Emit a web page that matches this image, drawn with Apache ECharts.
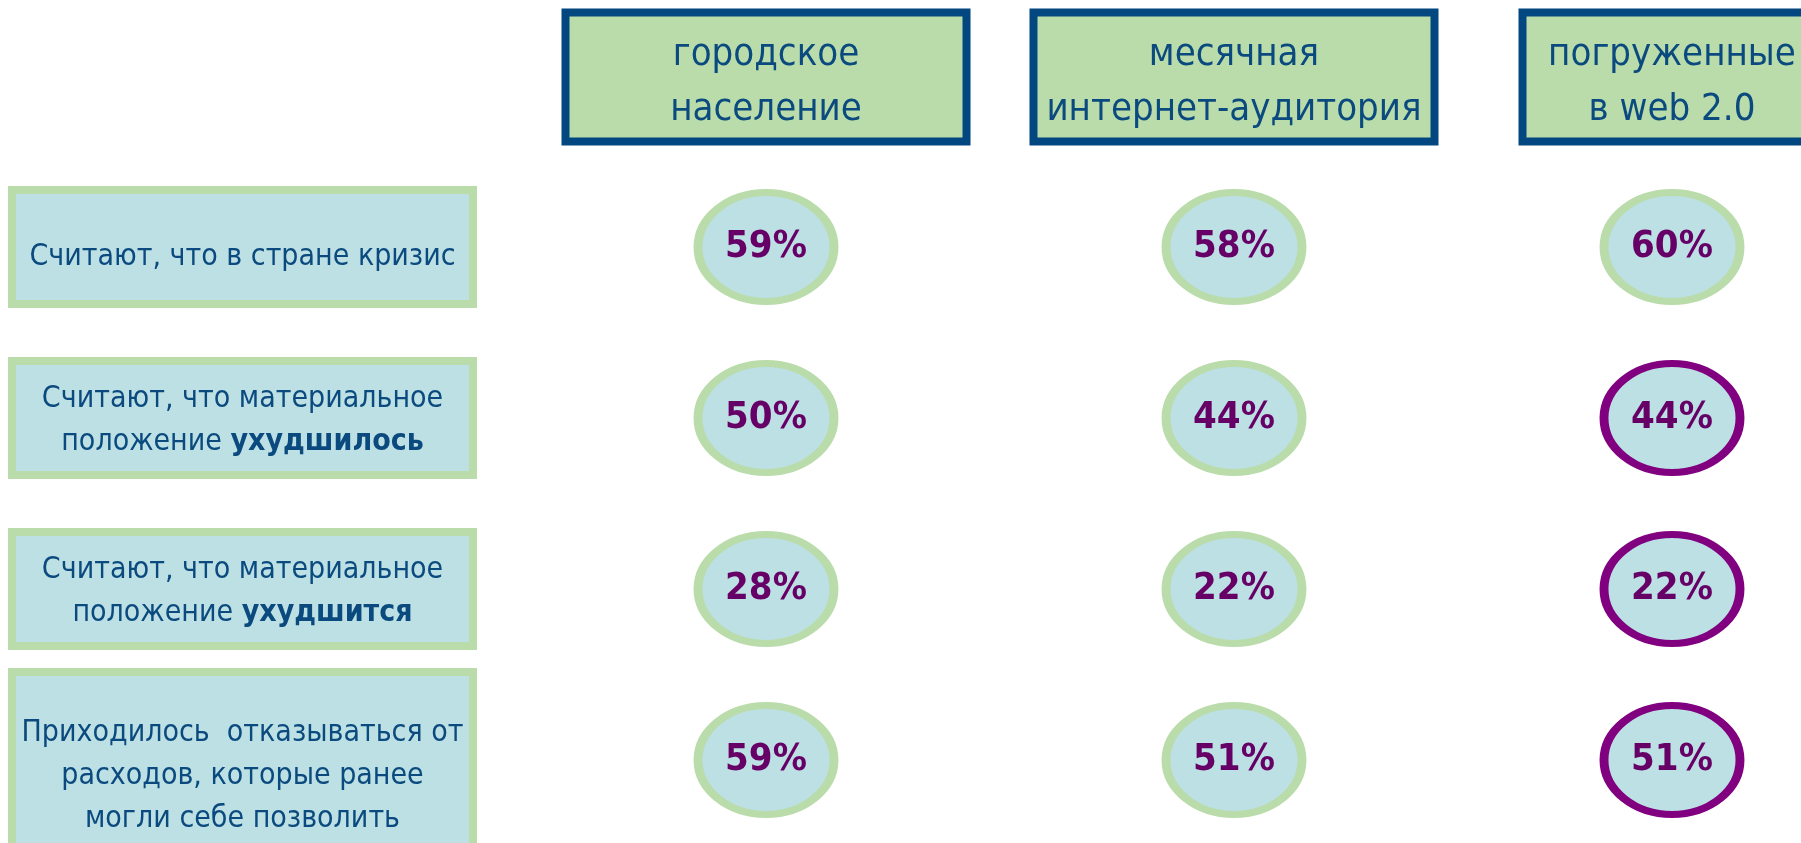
<!DOCTYPE html>
<html><head><meta charset="utf-8">
<script src="https://cdn.jsdelivr.net/npm/echarts@6/dist/echarts.min.js"></script>
<style>html,body{margin:0;padding:0;background:#fff}#chart{width:1801px;height:843px}</style>
</head><body><div id="chart"></div>
<script>
// ---- data ----
const columns = ['городское\nнаселение', 'месячная\nинтернет-аудитория', 'погруженные\nв web 2.0'];
const rows = [
  'Считают, что в стране кризис',
  'Считают, что материальное\nположение ухудшилось',
  'Считают, что материальное\nположение ухудшится',
  'Приходилось  отказываться от\nрасходов, которые ранее\nмогли себе позволить'
];
const boldWords = ['ухудшилось', 'ухудшится'];
const urbanPopulation = [59, 50, 28, 59];
const monthlyAudience = [58, 44, 22, 51];
const web20Users = [60, 44, 22, 51];
const columnValues = [urbanPopulation, monthlyAudience, web20Users];

// ---- layout / style ----
const FONT = "'Liberation Sans Narrow', 'DejaVu Sans Condensed', 'Liberation Sans', sans-serif";
const BLUE_TEXT = '#0b4a7f';
const HEADER_BORDER = '#02477f';
const GREEN = '#b9dcaa';
const LIGHT_BLUE = '#bce0e3';
const PURPLE = '#800080';
const PCT_TEXT = '#660066';
const colCenters = [766, 1234, 1672];
const headerWidths = [393, 393, 291];
const gridW = 200, gridTop = 161.5, gridH = 684;
const rowPadding = [[42, 0, 21, 0], [13, 0, 7, 0], [13, 0, 7, 0], [36, 0, 3, 0]];
const ellipse = 'path://M50,0 C77.6,0 100,22.4 100,50 C100,77.6 77.6,100 50,100 C22.4,100 0,77.6 0,50 C0,22.4 22.4,0 50,0 Z';

const grids = [], xAxes = [], yAxes = [], series = [];
columns.forEach((col, k) => {
  grids.push({ left: colCenters[k] - gridW / 2, width: gridW, top: gridTop, height: gridH,
               containLabel: false, outerBoundsMode: 'none' });
  xAxes.push({
    type: 'category', gridIndex: k, position: 'top', data: [col],
    axisLine: { show: false }, axisTick: { show: false }, splitLine: { show: false },
    axisLabel: {
      interval: 0, margin: 24, fontFamily: FONT, fontSize: 38, color: BLUE_TEXT,
      lineHeight: 55, width: headerWidths[k], padding: [11, 0, 0, 0], align: 'center',
      backgroundColor: GREEN, borderColor: HEADER_BORDER, borderWidth: 8
    }
  });
  yAxes.push({
    type: 'category', gridIndex: k, inverse: true,
    data: rows.map((r, i) => ({ value: r, textStyle: { padding: rowPadding[i], align: 'center' } })),
    axisLine: { show: false }, axisTick: { show: false }, splitLine: { show: false },
    axisLabel: k === 0 ? {
      show: true, interval: 0, margin: colCenters[0] - gridW / 2 - 242.5, align: 'center',
      fontFamily: FONT, fontSize: 30, color: BLUE_TEXT, lineHeight: 43, width: 453,
      backgroundColor: LIGHT_BLUE, borderColor: GREEN, borderWidth: 8,
      formatter: v => {
        let s = v;
        boldWords.forEach(w => { s = s.replace(w, '{b|' + w + '}'); });
        return s;
      },
      rich: { b: { fontFamily: FONT, fontSize: 30, fontWeight: 'bold', color: BLUE_TEXT, lineHeight: 43 } }
    } : { show: false }
  });
  series.push({
    type: 'scatter', xAxisIndex: k, yAxisIndex: k,
    data: rows.map((r, i) => ({
      value: [col, r, columnValues[k][i]],
      itemStyle: { borderColor: (k === 2 && i > 0) ? PURPLE : GREEN }
    })),
    symbol: ellipse, symbolSize: [136, 109],
    itemStyle: { color: LIGHT_BLUE, borderWidth: 8, opacity: 1 },
    label: {
      show: true, position: 'inside', formatter: p => p.value[2] + '%',
      fontFamily: FONT, fontSize: 38, fontWeight: 'bold', color: PCT_TEXT
    },
    emphasis: { disabled: true }, silent: true
  });
});

const chart = echarts.init(document.getElementById('chart'), null, { renderer: 'canvas' });
chart.setOption({
  animation: false,
  backgroundColor: '#ffffff',
  grid: grids, xAxis: xAxes, yAxis: yAxes, series: series
});
</script></body></html>
